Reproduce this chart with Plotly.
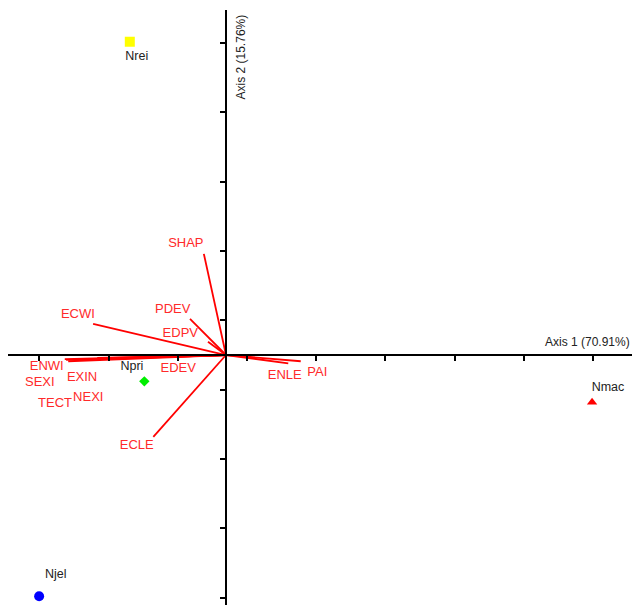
import plotly.graph_objects as go

# ---- data (PCA biplot, units = axis tick spacing) ----
var_names = ["SHAP", "PDEV", "EDPV", "ECWI", "ECLE", "ENLE", "PAI",
             "ENWI", "SEXI", "TECT", "EXIN", "NEXI", "EDEV"]
var_x = [-0.32, -0.52, -0.26, -1.92, -1.05, 0.90, 1.08,
         -2.33, -2.31, -2.28, -1.86, -1.82, -0.95]
var_y = [1.46, 0.52, 0.19, 0.45, -1.18, -0.12, -0.09,
         -0.06, -0.07, -0.09, -0.04, -0.06, -0.03]

site_names = ["Nrei", "Npri", "Nmac", "Njel"]
site_x = [-1.39, -1.18, 5.29, -2.70]
site_y = [4.52, -0.38, -0.68, -3.48]

axis1_title = "Axis 1 (70.91%)"
axis2_title = "Axis 2 (15.76%)"

# ---- label placement (layout) ----
var_label_x = [-0.58, -0.77, -0.66, -2.14, -1.29, 0.85, 1.32,
               -2.59, -2.69, -2.47, -2.08, -1.99, -0.69]
var_label_y = [1.60, 0.66, 0.30, 0.58, -1.31, -0.30, -0.25,
               -0.17, -0.40, -0.71, -0.33, -0.61, -0.20]
site_label_x = [-1.29, -1.36, 5.52, -2.46]
site_label_y = [4.30, -0.17, -0.48, -3.17]
site_colors = ["#ffff00", "#00ee00", "#ff0000", "#0000ff"]
site_symbols = ["square", "diamond", "triangle-up", "circle"]
site_sizes = [10, 8, 9, 10]

W, H = 632, 605
x_range = [-3.15, 5.867]
y_range = [-3.607, 4.978]

fig = go.Figure()

# vectors from origin
lx, ly = [], []
for vx, vy in zip(var_x, var_y):
    lx += [0, vx, None]
    ly += [0, vy, None]
fig.add_trace(go.Scatter(x=lx, y=ly, mode="lines",
                         line=dict(color="#ff0000", width=1.8),
                         hoverinfo="skip", showlegend=False))

# vector labels
fig.add_trace(go.Scatter(x=var_label_x, y=var_label_y, mode="text", text=var_names,
                         textposition="middle center",
                         textfont=dict(family="Liberation Sans, Arial",
                                       size=13, color="#ff2a2a"),
                         hoverinfo="skip", showlegend=False))

# sites
fig.add_trace(go.Scatter(x=site_x, y=site_y, mode="markers",
                         marker=dict(color=site_colors, symbol=site_symbols,
                                     size=site_sizes, opacity=1, line=dict(width=0)),
                         text=site_names, showlegend=False))
fig.add_trace(go.Scatter(x=site_label_x, y=site_label_y, mode="text", text=site_names,
                         textposition="middle center",
                         textfont=dict(family="Liberation Sans, Arial", size=12.5,
                                       color="#222222"),
                         hoverinfo="skip", showlegend=False))

x0_frac = 8 / W + (0 - x_range[0]) / (x_range[1] - x_range[0]) * (1 - 8 / W)
y_dom_top = (H - 10) / H
y0_frac = (0 - y_range[0]) / (y_range[1] - y_range[0]) * y_dom_top

fig.update_layout(
    width=W, height=H,
    margin=dict(l=0, r=0, t=0, b=0),
    paper_bgcolor="white", plot_bgcolor="white",
    xaxis=dict(range=x_range, domain=[8 / W, 1], anchor="free", position=y0_frac,
               showgrid=False, zeroline=False, showline=True, linecolor="black",
               linewidth=2, ticks="outside", ticklen=5, tickwidth=2, tickcolor="black",
               tickmode="linear", tick0=0.304, dtick=1, showticklabels=False),
    yaxis=dict(range=y_range, domain=[0, y_dom_top], anchor="free", position=x0_frac,
               showgrid=False, zeroline=False, showline=True, linecolor="black",
               linewidth=2, ticks="outside", ticklen=5, tickwidth=2, tickcolor="black",
               tickmode="linear", tick0=0.5, dtick=1, showticklabels=False),
    annotations=[
        dict(x=1, y=y0_frac, xref="paper", yref="paper", text=axis1_title,
             showarrow=False, xanchor="right", yanchor="bottom", yshift=4,
             font=dict(family="Liberation Sans, Arial", size=12, color="#222222")),
        dict(x=x0_frac, y=y_dom_top, xref="paper", yref="paper", text=axis2_title,
             showarrow=False, textangle=-90, xanchor="left", yanchor="top",
             xshift=7, yshift=-2,
             font=dict(family="Liberation Sans, Arial", size=12, color="#222222")),
    ],
)

fig.write_html("out.html",
               config={"displayModeBar": False},
               post_script="document.body.style.margin='0px';"
                           "document.body.style.overflow='hidden';")
